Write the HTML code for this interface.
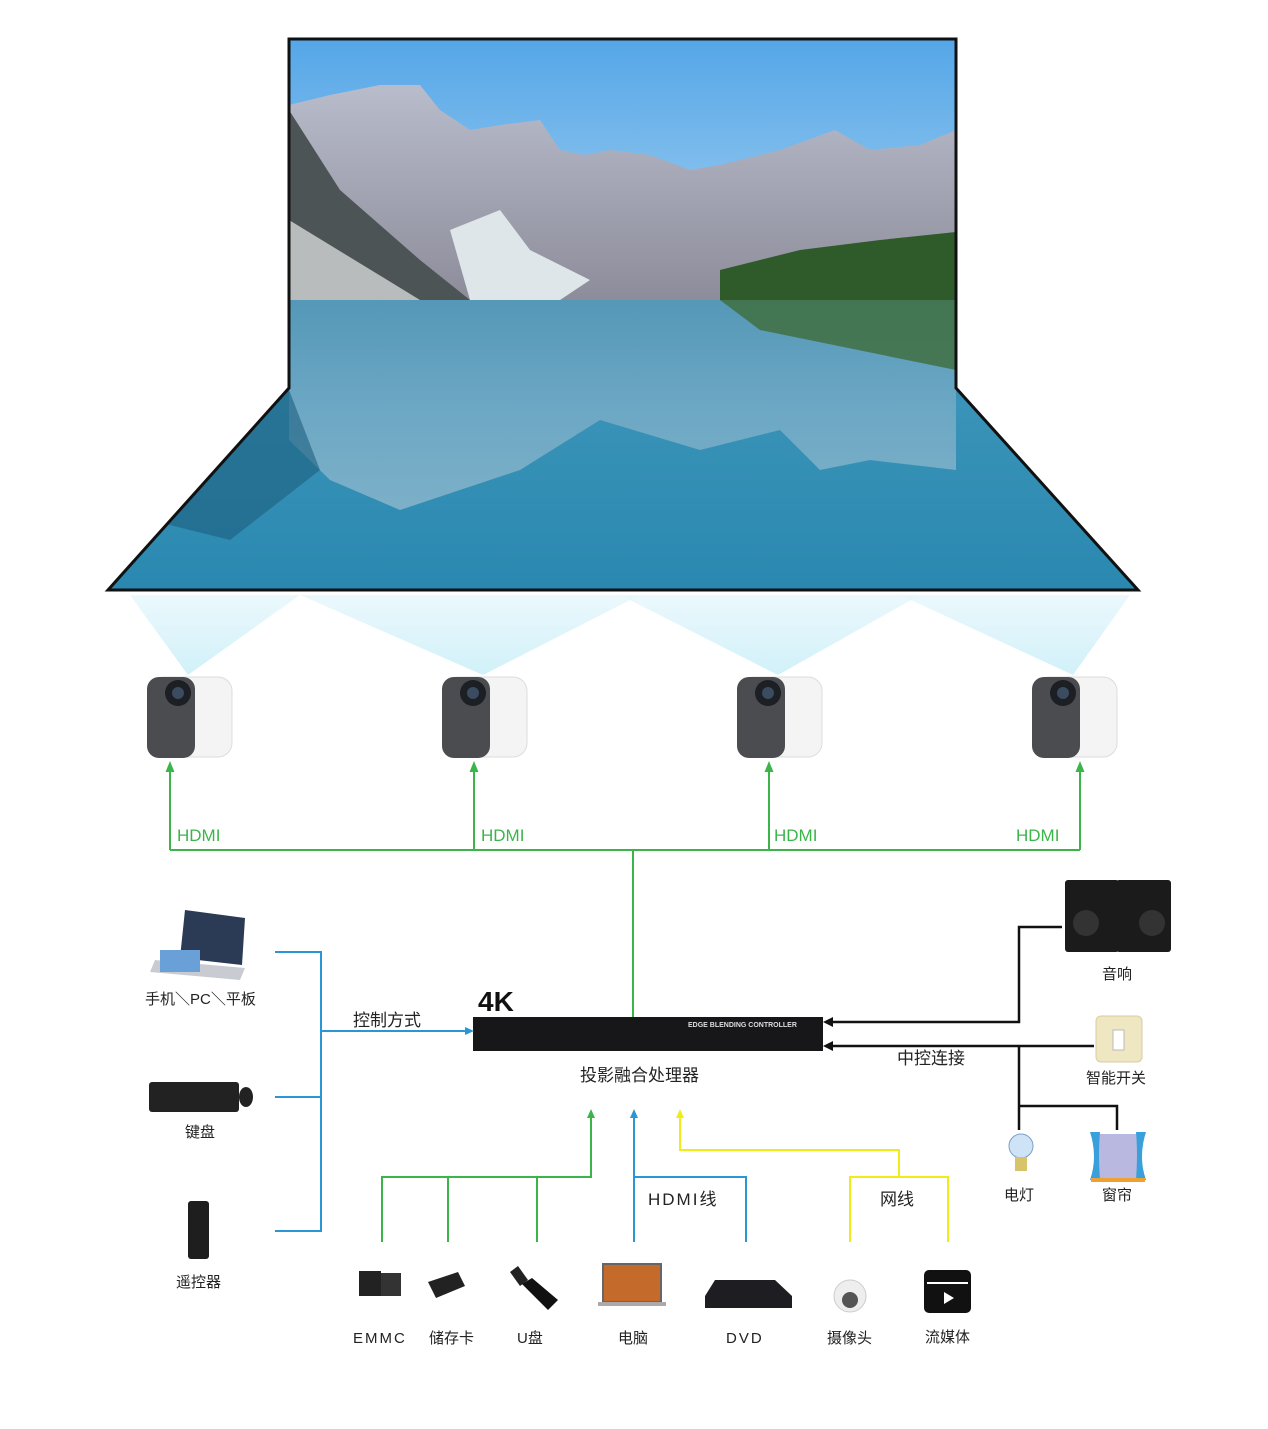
<!DOCTYPE html>
<html><head><meta charset="utf-8"><style>
body{margin:0;background:#fff;}
svg{display:block}
text{font-family:"Liberation Sans","Noto Sans CJK SC",sans-serif;}
</style></head><body>
<svg width="1268" height="1429" viewBox="0 0 1268 1429" xmlns="http://www.w3.org/2000/svg">
<defs>
<linearGradient id="sky" x1="0" y1="0" x2="0" y2="1"><stop offset="0" stop-color="#55a6e8"/><stop offset="1" stop-color="#a9d4f0"/></linearGradient>
<linearGradient id="water" x1="0" y1="0" x2="0" y2="1"><stop offset="0" stop-color="#1f6f8e"/><stop offset="0.35" stop-color="#3a93b8"/><stop offset="1" stop-color="#2a88b0"/></linearGradient>
<linearGradient id="mtn" x1="0" y1="0" x2="0" y2="1"><stop offset="0" stop-color="#b8bccb"/><stop offset="1" stop-color="#8d8c9a"/></linearGradient>
<linearGradient id="refl" x1="0" y1="0" x2="0" y2="1"><stop offset="0" stop-color="#5e9fbf"/><stop offset="1" stop-color="#8ab6cc"/></linearGradient>
<linearGradient id="beam" x1="0" y1="0" x2="0" y2="1"><stop offset="0" stop-color="#e6f7fc"/><stop offset="1" stop-color="#c6edf7"/></linearGradient>
<clipPath id="scr"><polygon points="289,39 956,39 956,388 1138,590 108,590 289,388"/></clipPath>
<marker id="ag" markerUnits="userSpaceOnUse" markerWidth="12" markerHeight="12" refX="6" refY="6" orient="auto"><path d="M0,1.5 L11,6 L0,10.5 z" fill="#3bb54a"/></marker>
</defs>
<polygon points="130,595 300,595 188,675" fill="url(#beam)" opacity="0.8"/>
<polygon points="300,595 640,595 483,675" fill="url(#beam)" opacity="0.8"/>
<polygon points="620,595 920,595 778,675" fill="url(#beam)" opacity="0.8"/>
<polygon points="900,595 1130,595 1073,675" fill="url(#beam)" opacity="0.8"/>
<g clip-path="url(#scr)">
<rect x="100" y="39" width="1050" height="262" fill="url(#sky)"/>
<polygon points="289,105 330,95 380,85 420,85 440,110 470,130 500,125 540,120 560,150 585,155 610,150 650,155 690,170 720,165 780,150 835,130 870,150 920,145 956,130 956,300 289,300" fill="url(#mtn)"/>
<polygon points="289,110 340,190 420,260 470,300 289,300" fill="#4d5456"/>
<polygon points="289,220 420,300 289,300" fill="#b8bcbc"/>
<polygon points="450,230 500,210 530,250 590,280 560,300 470,300" fill="#dfe6ea"/>
<polygon points="720,270 800,250 880,240 956,232 956,300 720,300" fill="#2f5a2a"/>
<rect x="100" y="300" width="1050" height="290" fill="url(#water)"/>
<polygon points="289,300 956,300 956,470 870,460 820,470 780,430 700,450 600,420 520,470 400,510 330,480 289,440" fill="url(#refl)" opacity="0.85"/>
<polygon points="720,300 956,300 956,370 760,330" fill="#3f6d3a" opacity="0.8"/>
<polygon points="150,520 289,390 320,470 230,540" fill="#1d5f7e" opacity="0.6"/>
</g>
<polygon points="289,39 956,39 956,388 1138,590 108,590 289,388" fill="none" stroke="#111" stroke-width="3"/>
<g id="pj">
<rect x="150" y="677" width="82" height="80" rx="14" fill="#f4f4f4" stroke="#ddd"/>
<rect x="147" y="677" width="48" height="81" rx="12" fill="#4a4c50"/>
<circle cx="178" cy="693" r="13" fill="#1c1f24"/><circle cx="178" cy="693" r="6" fill="#3b4b60"/>
</g>
<use href="#pj" x="295"/><use href="#pj" x="590"/><use href="#pj" x="885"/>
<g stroke="#3bb54a" stroke-width="2" fill="none">
<path d="M170,850 H1080"/>
<path d="M170,850 V766" marker-end="url(#ag)"/>
<path d="M474,850 V766" marker-end="url(#ag)"/>
<path d="M769,850 V766" marker-end="url(#ag)"/>
<path d="M1080,850 V766" marker-end="url(#ag)"/>
<path d="M633,850 V1018"/>
</g>
<g fill="#3bb54a" font-size="17"><text x="177" y="841">HDMI</text><text x="481" y="841">HDMI</text><text x="774" y="841">HDMI</text><text x="1016" y="841">HDMI</text></g>
<text x="478" y="1011" font-size="28" font-weight="bold" font-family="DejaVu Sans,sans-serif" fill="#111">4K</text>
<rect x="473" y="1017" width="350" height="34" fill="#17171a"/>
<text x="688" y="1027" font-size="7" fill="#ddd" font-weight="bold">EDGE BLENDING CONTROLLER</text>
<text x="580" y="1081" font-size="17" fill="#222">投影融合处理器</text>
<g stroke="#2a96d6" stroke-width="2" fill="none">
<path d="M275,952 H321 V1231 H275 M275,1097 H321 M321,1031 H470"/>
</g>
<path d="M474,1031 l-9,-4 v8 z" fill="#2a96d6"/>
<text x="353" y="1026" font-size="17" fill="#222">控制方式</text>
<polygon points="185,910 245,918 242,965 180,958" fill="#2b3a55"/><polygon points="155,960 245,968 240,980 150,972" fill="#c8ccd2"/>
<rect x="160" y="950" width="40" height="22" fill="#6aa0d8"/>
<text x="145" y="1004" font-size="15" fill="#222">手机＼PC＼平板</text>
<rect x="149" y="1082" width="90" height="30" rx="3" fill="#222"/><ellipse cx="246" cy="1097" rx="7" ry="10" fill="#222"/>
<text x="185" y="1137" font-size="15" fill="#222">键盘</text>
<rect x="188" y="1201" width="21" height="58" rx="3" fill="#1e1e1e"/>
<text x="176" y="1287" font-size="15" fill="#222">遥控器</text>
<g stroke="#111" stroke-width="2.5" fill="none">
<path d="M1062,927 H1019 V1022 H828"/>
<path d="M1094,1046 H828"/>
<path d="M1019,1046 V1130 M1019,1106 H1117 V1130"/>
</g>
<path d="M823,1022 l10,-5 v10 z M823,1046 l10,-5 v10 z" fill="#111"/>
<text x="897" y="1064" font-size="17" fill="#222">中控连接</text>
<rect x="1065" y="880" width="54" height="72" rx="3" fill="#1b1b1b"/><rect x="1116" y="880" width="55" height="72" rx="3" fill="#1b1b1b"/>
<circle cx="1086" cy="923" r="13" fill="#333"/><circle cx="1152" cy="923" r="13" fill="#333"/>
<text x="1102" y="979" font-size="15" fill="#222">音响</text>
<rect x="1096" y="1016" width="46" height="46" rx="5" fill="#efe6c2" stroke="#d8cda0"/><rect x="1113" y="1030" width="11" height="20" fill="#fff" stroke="#bbb"/>
<text x="1086" y="1083" font-size="15" fill="#222">智能开关</text>
<circle cx="1021" cy="1146" r="12" fill="#cfe3f6" stroke="#7aa0c8"/><rect x="1015" y="1157" width="12" height="14" fill="#d8c26a"/>
<text x="1004" y="1200" font-size="15" fill="#222">电灯</text>
<rect x="1095" y="1134" width="46" height="44" fill="#b8b8e0"/><path d="M1090,1132 q8,25 0,48 h10 q-2,-25 0,-48z M1146,1132 q-8,25 0,48 h-10 q2,-25 0,-48z" fill="#3aa0dc"/><rect x="1091" y="1178" width="54" height="4" fill="#f0a030"/>
<text x="1102" y="1200" font-size="15" fill="#222">窗帘</text>
<g fill="none" stroke-width="2">
<path stroke="#3bb54a" d="M382,1242 V1177 H591 V1114 M448,1177 V1242 M537,1177 V1242"/>
<path stroke="#2a96d6" d="M634,1242 V1114 M634,1177 H746 V1242"/>
<path stroke="#f0ec1c" d="M850,1242 V1177 H948 V1242 M899,1177 V1150 H680 V1114"/>
</g>
<path d="M591,1109 l-4,9 h8z" fill="#3bb54a"/><path d="M634,1109 l-4,9 h8z" fill="#2a96d6"/><path d="M680,1109 l-4,9 h8z" fill="#f0ec1c"/>
<text x="648" y="1205" font-size="17" fill="#222" letter-spacing="2">HDMI线</text>
<text x="880" y="1205" font-size="17" fill="#222">网线</text>
<rect x="359" y="1271" width="22" height="25" fill="#222"/><rect x="381" y="1273" width="20" height="23" fill="#333"/>
<polygon points="428,1282 458,1272 465,1286 436,1298" fill="#222"/>
<polygon points="510,1272 518,1266 528,1280 520,1286" fill="#222"/><polygon points="522,1284 532,1278 558,1300 548,1310" fill="#111"/>
<rect x="603" y="1264" width="58" height="38" fill="#c46a2a" stroke="#666" stroke-width="2"/><rect x="598" y="1302" width="68" height="4" fill="#aaa"/>
<polygon points="715,1280 775,1280 792,1296 792,1308 705,1308 705,1296" fill="#1e1e22"/>
<circle cx="850" cy="1296" r="16" fill="#eee" stroke="#ccc"/><circle cx="850" cy="1300" r="8" fill="#555"/>
<rect x="924" y="1270" width="47" height="43" rx="5" fill="#111"/><polygon points="944,1292 944,1304 954,1298" fill="#fff"/><rect x="927" y="1282" width="41" height="2" fill="#fff"/>
<g font-size="15" fill="#222">
<text x="353" y="1343" letter-spacing="2">EMMC</text>
<text x="429" y="1343">储存卡</text>
<text x="517" y="1343">U盘</text>
<text x="618" y="1343">电脑</text>
<text x="726" y="1343" letter-spacing="2">DVD</text>
<text x="827" y="1343">摄像头</text>
<text x="925" y="1342">流媒体</text>
</g>
</svg>
</body></html>
